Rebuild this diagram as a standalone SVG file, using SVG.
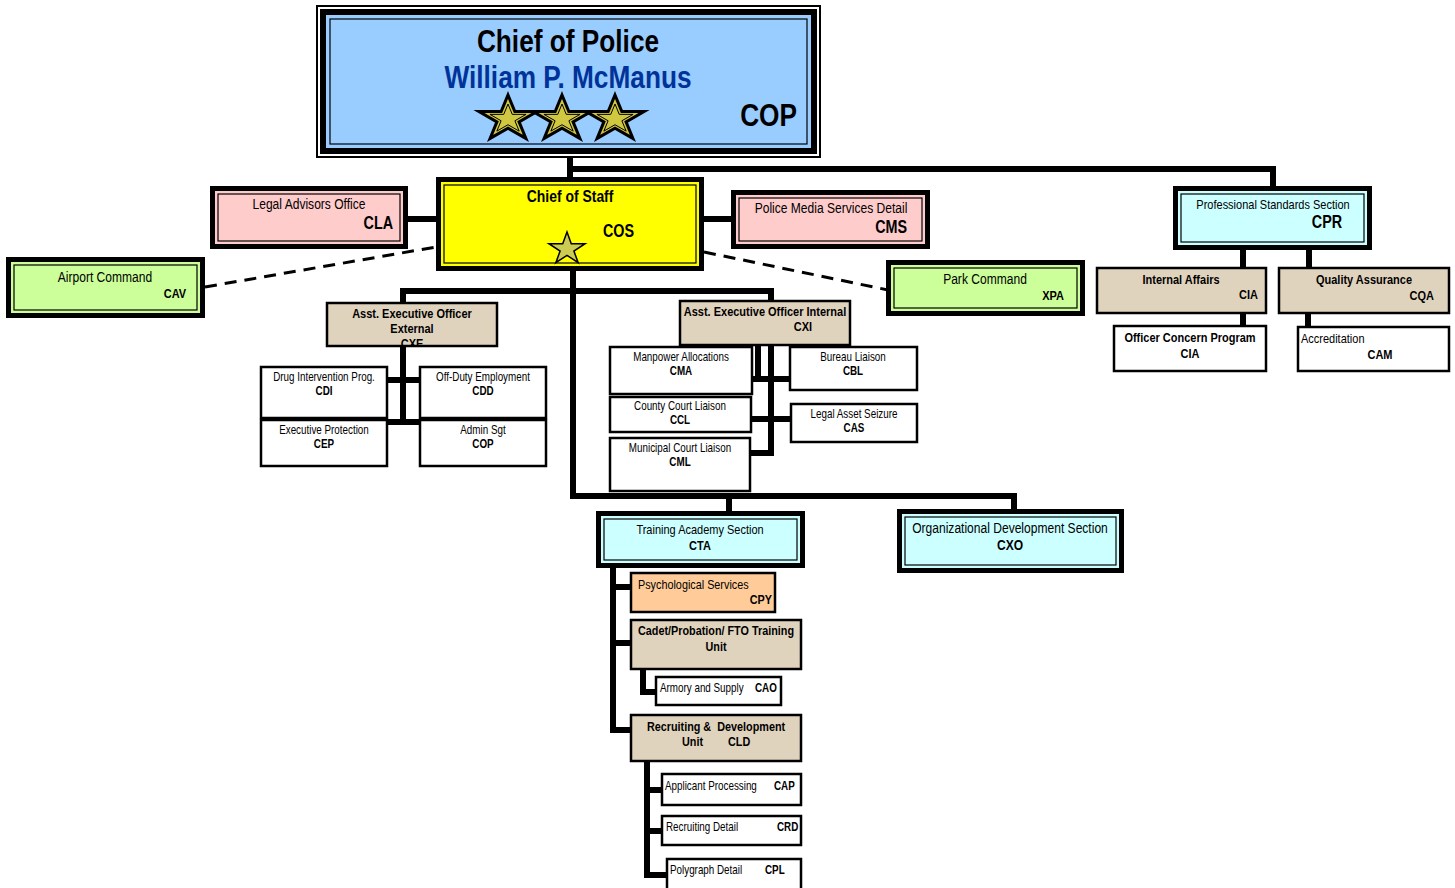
<svg xmlns="http://www.w3.org/2000/svg" xmlns:xlink="http://www.w3.org/1999/xlink" width="1455" height="888" viewBox="0 0 1455 888">
<style>
text{font-family:"Liberation Sans",Arial,sans-serif;fill:#000;transform-box:fill-box;transform-origin:left center;transform:scaleX(.82)}
.b{font-weight:bold}
.m{text-anchor:middle;transform-origin:center}
.e{text-anchor:end;transform-origin:right center}
.o{stroke:#000;stroke-width:5}
.i{fill:none;stroke:#000;stroke-width:1.2}
.s{stroke:#000;stroke-width:2.5}
.pk{fill:#FFCCCC}.gr{fill:#CCFF99}.cy{fill:#CCFFFF}.tn{fill:#E0D3BD}.wh{fill:#FFFFFF}.pe{fill:#FFCC99}
.ln{fill:none;stroke:#000;stroke-width:6}
.dash{fill:none;stroke:#000;stroke-width:3;stroke-dasharray:12 8}
.f11{font-size:12px}.f12{font-size:13.2px}.f13{font-size:13.4px}.f14{font-size:14.7px}.f17{font-size:17.5px}.f32{font-size:32px}
</style>
<defs>
<polygon id="star" vector-effect="non-scaling-stroke" points="0,-1 0.2245,-0.309 0.951,-0.309 0.3633,0.118 0.5878,0.809 0,0.382 -0.5878,0.809 -0.3633,0.118 -0.951,-0.309 -0.2245,-0.309"/>
<clipPath id="cxeclip"><rect x="327" y="303" width="170" height="42"/></clipPath>
</defs>
<rect width="1455" height="888" fill="#fff"/>
<g id="connectors">
<path class="ln" d="M570 157 V178"/>
<path class="ln" d="M570 169 H1273 V187"/>
<path class="ln" d="M408 219 H437"/>
<path class="ln" d="M704 219 H731"/>
<path class="dash" d="M205 287 L436 247"/>
<path class="dash" d="M704 252 L888 290"/>
<path class="ln" d="M573 271 V496 H1014 V510"/>
<path class="ln" d="M729 496 V512"/>
<path class="ln" d="M403 302 V291 H771 V301"/>
<path class="ln" d="M403 347 V423"/>
<path class="ln" d="M388 380 H419"/>
<path class="ln" d="M388 422 H419"/>
<path class="ln" d="M771 346 V456"/>
<path class="ln" d="M758 346 V380"/>
<path class="ln" d="M753 379 H790"/>
<path class="ln" d="M752 419 H790"/>
<path class="ln" d="M751 453 H774"/>
<path class="ln" d="M1243 250 V268"/>
<path class="ln" d="M1309 250 V268"/>
<path class="ln" d="M1243 314 V326"/>
<path class="ln" d="M1308 314 V327"/>
<path class="ln" d="M613 568 V733"/>
<path class="ln" d="M613 587 H630"/>
<path class="ln" d="M613 643 H630"/>
<path class="ln" d="M613 730 H630"/>
<path class="ln" d="M643 670 V692 H656"/>
<path class="ln" d="M647 762 V875 H667"/>
<path class="ln" d="M647 790 H661"/>
<path class="ln" d="M647 831 H661"/>
</g>
<g id="cop">
<rect x="317" y="6" width="503" height="151" fill="#fff" stroke="#000" stroke-width="2"/>
<rect x="323" y="12" width="491" height="139" fill="#99CCFF" stroke="#000" stroke-width="6"/>
<rect x="330" y="19" width="477" height="125" class="i"/>
<text x="568" y="52" class="b m f32">Chief of Police</text>
<text x="568" y="88" class="b m f32" style="fill:#003399">William P. McManus</text>
<text x="797" y="126" class="b e f32">COP</text>
<use xlink:href="#star" transform="translate(508,119) scale(30.5,24)" fill="#D0C840" stroke="#000" stroke-width="3"/>
<use xlink:href="#star" transform="translate(508,119) scale(19,15)" fill="none" stroke="#000" stroke-width="1"/>
<use xlink:href="#star" transform="translate(562,119) scale(30.5,24)" fill="#D0C840" stroke="#000" stroke-width="3"/>
<use xlink:href="#star" transform="translate(562,119) scale(19,15)" fill="none" stroke="#000" stroke-width="1"/>
<use xlink:href="#star" transform="translate(615,119) scale(30.5,24)" fill="#D0C840" stroke="#000" stroke-width="3"/>
<use xlink:href="#star" transform="translate(615,119) scale(19,15)" fill="none" stroke="#000" stroke-width="1"/>
</g>
<g id="cos">
<rect x="438.5" y="179.5" width="263" height="89" class="o" fill="#FFFF00"/>
<rect x="444" y="185" width="252" height="78" class="i"/>
<text x="570" y="202" class="b m" font-size="17">Chief of Staff</text>
<text x="603" y="237" class="b f17">COS</text>
<use xlink:href="#star" transform="translate(567,249) scale(19,17)" fill="#CCCC55" stroke="#000" stroke-width="1.5"/>
</g>
<g id="cla">
<rect x="212.5" y="188.5" width="193" height="58" class="o pk"/>
<rect x="218" y="194" width="182" height="47" class="i"/>
<text x="309" y="209" class="m f14">Legal Advisors Office</text>
<text x="393" y="229" class="b e f17">CLA</text>
</g>
<g id="cms">
<rect x="733.5" y="192.5" width="194" height="54" class="o pk"/>
<rect x="739" y="198" width="183" height="43" class="i"/>
<text x="831" y="213" class="m f14">Police Media Services Detail</text>
<text x="907" y="233" class="b e f17">CMS</text>
</g>
<g id="cav">
<rect x="8.5" y="259.5" width="194" height="56" class="o gr"/>
<rect x="14" y="265" width="183" height="45" class="i"/>
<text x="105" y="282" class="m f14">Airport Command</text>
<text x="186" y="298" class="b e f13">CAV</text>
</g>
<g id="xpa">
<rect x="888.5" y="262.5" width="194" height="51" class="o gr"/>
<rect x="894" y="268" width="183" height="40" class="i"/>
<text x="985" y="284" class="m f14">Park Command</text>
<text x="1064" y="300" class="b e f13">XPA</text>
</g>
<g id="cpr">
<rect x="1175.5" y="188.5" width="194" height="59" class="o cy"/>
<rect x="1181" y="194" width="183" height="48" class="i"/>
<text x="1273" y="209" class="m f13">Professional Standards Section</text>
<text x="1342" y="228" class="b e f17">CPR</text>
</g>
<g id="cia">
<rect x="1097" y="268" width="169" height="45" class="s tn"/>
<text x="1181" y="284" class="b m f13">Internal Affairs</text>
<text x="1258" y="299" class="b e f13">CIA</text>
</g>
<g id="cqa">
<rect x="1279" y="268" width="170" height="45" class="s tn"/>
<text x="1364" y="284" class="b m f13">Quality Assurance</text>
<text x="1434" y="300" class="b e f13">CQA</text>
</g>
<g id="ocp">
<rect x="1114" y="326" width="152" height="45" class="s wh"/>
<text x="1190" y="342" class="b m f13">Officer Concern Program</text>
<text x="1190" y="358" class="b m f13">CIA</text>
</g>
<g id="cam">
<rect x="1298" y="327" width="151" height="44" class="s wh"/>
<text x="1301" y="343" class="f13">Accreditation</text>
<text x="1380" y="359" class="b m f13">CAM</text>
</g>
<g id="cxe">
<rect x="327" y="303" width="170" height="43" class="s tn"/>
<text x="412" y="318" class="b m f13">Asst. Executive Officer</text>
<text x="412" y="333" class="b m f13">External</text>
<g clip-path="url(#cxeclip)"><text x="412" y="348" class="b m f13">CXE</text></g>
</g>
<g id="cdi">
<rect x="261" y="367" width="126" height="51" class="s wh"/>
<text x="324" y="381" class="m f11">Drug Intervention Prog.</text>
<text x="324" y="395" class="b m f11">CDI</text>
</g>
<g id="cdd">
<rect x="420" y="367" width="126" height="51" class="s wh"/>
<text x="483" y="381" class="m f11">Off-Duty Employment</text>
<text x="483" y="395" class="b m f11">CDD</text>
</g>
<g id="cep">
<rect x="261" y="420" width="126" height="46" class="s wh"/>
<text x="324" y="434" class="m f11">Executive Protection</text>
<text x="324" y="448" class="b m f11">CEP</text>
</g>
<g id="admin">
<rect x="420" y="420" width="126" height="46" class="s wh"/>
<text x="483" y="434" class="m f11">Admin Sgt</text>
<text x="483" y="448" class="b m f11">COP</text>
</g>
<g id="cxi">
<rect x="680" y="301" width="170" height="44" class="s tn"/>
<text x="765" y="316" class="b m f13">Asst. Executive Officer Internal</text>
<text x="803" y="331" class="b m f13">CXI</text>
</g>
<g id="cma">
<rect x="610" y="347" width="142" height="47" class="s wh"/>
<text x="681" y="361" class="m f11">Manpower Allocations</text>
<text x="681" y="375" class="b m f11">CMA</text>
</g>
<g id="cbl">
<rect x="790" y="347" width="127" height="43" class="s wh"/>
<text x="853" y="361" class="m f11">Bureau Liaison</text>
<text x="853" y="375" class="b m f11">CBL</text>
</g>
<g id="ccl">
<rect x="610" y="397" width="141" height="35" class="s wh"/>
<text x="680" y="410" class="m f11">County Court Liaison</text>
<text x="680" y="424" class="b m f11">CCL</text>
</g>
<g id="cas">
<rect x="791" y="404" width="126" height="38" class="s wh"/>
<text x="854" y="418" class="m f11">Legal Asset Seizure</text>
<text x="854" y="432" class="b m f11">CAS</text>
</g>
<g id="cml">
<rect x="610" y="438" width="140" height="53" class="s wh"/>
<text x="680" y="452" class="m f11">Municipal Court Liaison</text>
<text x="680" y="466" class="b m f11">CML</text>
</g>
<g id="cta">
<rect x="598.5" y="513.5" width="204" height="52" class="o cy"/>
<rect x="604" y="519" width="193" height="41" class="i"/>
<text x="700" y="534" class="m f13">Training Academy Section</text>
<text x="700" y="550" class="b m f13">CTA</text>
</g>
<g id="cxo">
<rect x="899.5" y="511.5" width="222" height="59" class="o cy"/>
<rect x="905" y="517" width="211" height="48" class="i"/>
<text x="1010" y="533" class="m f14">Organizational Development Section</text>
<text x="1010" y="550" class="b m f14">CXO</text>
</g>
<g id="cpy">
<rect x="631" y="573" width="144" height="39" class="s pe"/>
<text x="638" y="589" class="f12">Psychological Services</text>
<text x="772" y="604" class="b e f12">CPY</text>
</g>
<g id="cadet">
<rect x="631" y="620" width="170" height="49" class="s tn"/>
<text x="716" y="635" class="b m f12">Cadet/Probation/ FTO Training</text>
<text x="716" y="651" class="b m f12">Unit</text>
</g>
<g id="cao">
<rect x="656" y="677" width="125" height="28" class="s wh"/>
<text x="660" y="692" class="f11">Armory and Supply</text>
<text x="755" y="692" class="b f11">CAO</text>
</g>
<g id="cld">
<rect x="631" y="715" width="170" height="46" class="s tn"/>
<text x="716" y="731" class="b m f12" xml:space="preserve">Recruiting &amp;  Development</text>
<text x="682" y="746" class="b f12">Unit</text>
<text x="728" y="746" class="b f12">CLD</text>
</g>
<g id="cap">
<rect x="662" y="774" width="139" height="31" class="s wh"/>
<text x="665" y="790" class="f11">Applicant Processing</text>
<text x="774" y="790" class="b f11">CAP</text>
</g>
<g id="crd">
<rect x="662" y="816" width="139" height="29" class="s wh"/>
<text x="666" y="831" class="f11">Recruiting Detail</text>
<text x="777" y="831" class="b f11">CRD</text>
</g>
<g id="cpl">
<rect x="667" y="859" width="134" height="35" class="s wh"/>
<text x="670" y="874" class="f11">Polygraph Detail</text>
<text x="765" y="874" class="b f11">CPL</text>
</g>
</svg>
